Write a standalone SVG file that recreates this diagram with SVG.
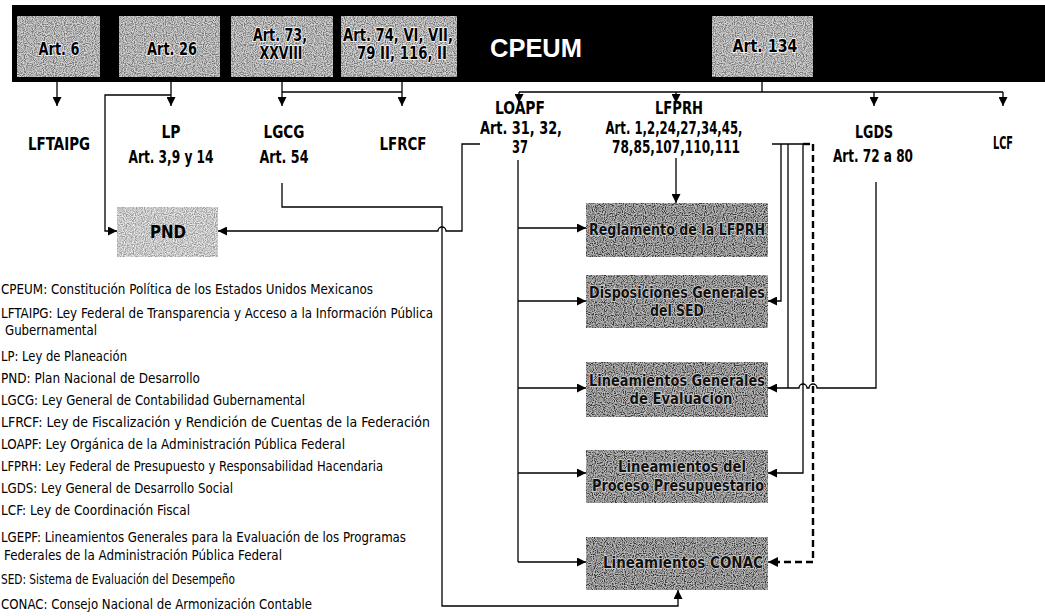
<svg xmlns="http://www.w3.org/2000/svg" width="1045" height="616" viewBox="0 0 1045 616">
<style>
.bar{fill:#000}
.artbox{fill:#a2a2a2}
.pnd{fill:#d2d2d2}
.dbox{fill:#4e4e4e}
text{font-family:"DejaVu Sans Condensed","Liberation Sans",sans-serif}
.art{font-weight:bold;font-size:17px;fill:#000;stroke:#fff;stroke-width:1.6;paint-order:stroke;text-anchor:middle}
.title{font-family:"Liberation Sans",sans-serif;font-weight:bold;font-size:25px;fill:#fff;text-anchor:middle}
.lbl{font-weight:bold;font-size:17px;fill:#000;text-anchor:middle}
.bt{font-weight:bold;font-size:16px;fill:#111;stroke:#d8d8d8;stroke-width:1.4;paint-order:stroke;text-anchor:middle}
.lg{font-size:14px;fill:#000}
.ln{fill:none;stroke:#000;stroke-width:1.3}
.dash{fill:none;stroke:#000;stroke-width:2.4;stroke-dasharray:7 4}
</style>
<defs>
<marker id="ah" viewBox="0 0 10 10" refX="10" refY="5" markerWidth="9" markerHeight="9" markerUnits="userSpaceOnUse" orient="auto">
<path d="M0,0 L10,5 L0,10 z" fill="#000"/>
</marker>
<marker id="ahd" viewBox="0 0 10 10" refX="10" refY="5" markerWidth="10" markerHeight="10" markerUnits="userSpaceOnUse" orient="auto">
<path d="M0,0 L10,5 L0,10 z" fill="#000"/>
</marker>
<filter id="grain" x="0" y="0" width="100%" height="100%">
<feTurbulence type="fractalNoise" baseFrequency="0.9" numOctaves="1" seed="4" result="n"/>
<feColorMatrix in="n" type="matrix" values="3 0 0 0 -1  3 0 0 0 -1  3 0 0 0 -1  0 0 0 0 0.5" result="g"/>
<feComposite in="g" in2="SourceGraphic" operator="in" result="gc"/>
<feMerge><feMergeNode in="SourceGraphic"/><feMergeNode in="gc"/></feMerge>
</filter>
</defs>

<g id="cpeum">
<rect class="bar" x="12" y="5" width="1033" height="77"/>
<text class="title" x="536" y="57" textLength="92" lengthAdjust="spacingAndGlyphs">CPEUM</text>
</g>
<g id="art6">
<rect class="artbox" x="17" y="16" width="83" height="61" filter="url(#grain)"/>
<text class="art" x="59" y="55" textLength="41" lengthAdjust="spacingAndGlyphs">Art. 6</text>
</g>
<g id="art26">
<rect class="artbox" x="119" y="16" width="101" height="61" filter="url(#grain)"/>
<text class="art" x="172" y="55" textLength="50" lengthAdjust="spacingAndGlyphs">Art. 26</text>
</g>
<g id="art73">
<rect class="artbox" x="231" y="16" width="102" height="61" filter="url(#grain)"/>
<text class="art" x="280" y="41" textLength="54" lengthAdjust="spacingAndGlyphs">Art. 73,</text>
<text class="art" x="281" y="59" textLength="43" lengthAdjust="spacingAndGlyphs">XXVIII</text>
</g>
<g id="art74">
<rect class="artbox" x="341" y="16" width="116" height="61" filter="url(#grain)"/>
<text class="art" x="398" y="41" textLength="110" lengthAdjust="spacingAndGlyphs">Art. 74, VI, VII,</text>
<text class="art" x="402" y="59" textLength="90" lengthAdjust="spacingAndGlyphs">79 II, 116, II</text>
</g>
<g id="art134">
<rect class="artbox" x="712" y="16" width="101" height="61" filter="url(#grain)"/>
<text class="art" x="765" y="52" textLength="65" lengthAdjust="spacingAndGlyphs">Art. 134</text>
</g>

<g id="lftaipg"><text class="lbl" x="59" y="150" textLength="62" lengthAdjust="spacingAndGlyphs">LFTAIPG</text></g>
<g id="lp"><text class="lbl" x="171" y="138" textLength="19" lengthAdjust="spacingAndGlyphs">LP</text><text class="lbl" x="171" y="163" textLength="85" lengthAdjust="spacingAndGlyphs">Art. 3,9 y 14</text></g>
<g id="lgcg"><text class="lbl" x="284" y="138" textLength="41" lengthAdjust="spacingAndGlyphs">LGCG</text><text class="lbl" x="284" y="163" textLength="49" lengthAdjust="spacingAndGlyphs">Art. 54</text></g>
<g id="lfrcf"><text class="lbl" x="403" y="150" textLength="47" lengthAdjust="spacingAndGlyphs">LFRCF</text></g>
<g id="loapf"><text class="lbl" x="520" y="114" textLength="50" lengthAdjust="spacingAndGlyphs">LOAPF</text><text class="lbl" x="521" y="134" textLength="82" lengthAdjust="spacingAndGlyphs">Art. 31, 32,</text><text class="lbl" x="520" y="153" textLength="16" lengthAdjust="spacingAndGlyphs">37</text></g>
<g id="lfprh"><text class="lbl" x="679" y="114" textLength="48" lengthAdjust="spacingAndGlyphs">LFPRH</text><text class="lbl" x="674" y="134" textLength="137" lengthAdjust="spacingAndGlyphs">Art. 1,2,24,27,34,45,</text><text class="lbl" x="676" y="153" textLength="128" lengthAdjust="spacingAndGlyphs">78,85,107,110,111</text></g>
<g id="lgds"><text class="lbl" x="874" y="138" textLength="38" lengthAdjust="spacingAndGlyphs">LGDS</text><text class="lbl" x="873" y="162" textLength="80" lengthAdjust="spacingAndGlyphs">Art. 72 a 80</text></g>
<g id="lcf"><text class="lbl" x="1003" y="149" textLength="20" lengthAdjust="spacingAndGlyphs">LCF</text></g>

<g id="pnd">
<rect class="pnd" x="117" y="207" width="101" height="50" filter="url(#grain)"/>
<text class="lbl" x="168" y="238" textLength="36" lengthAdjust="spacingAndGlyphs">PND</text>
</g>
<g id="reglamento">
<rect class="dbox" x="586" y="203" width="182" height="54" filter="url(#grain)"/>
<text class="bt" x="677" y="235" textLength="176" lengthAdjust="spacingAndGlyphs">Reglamento de la LFPRH</text>
</g>
<g id="disposiciones">
<rect class="dbox" x="586" y="275" width="182" height="53" filter="url(#grain)"/>
<text class="bt" x="677" y="298" textLength="176" lengthAdjust="spacingAndGlyphs">Disposiciones Generales</text>
<text class="bt" x="677" y="316" textLength="54" lengthAdjust="spacingAndGlyphs">del SED</text>
</g>
<g id="lineamientos-evaluacion">
<rect class="dbox" x="586" y="362" width="182" height="55" filter="url(#grain)"/>
<text class="bt" x="677" y="386" textLength="176" lengthAdjust="spacingAndGlyphs">Lineamientos Generales</text>
<text class="bt" x="681" y="404" textLength="103" lengthAdjust="spacingAndGlyphs">de Evaluación</text>
</g>
<g id="lineamientos-proceso">
<rect class="dbox" x="586" y="450" width="182" height="53" filter="url(#grain)"/>
<text class="bt" x="682" y="472" textLength="128" lengthAdjust="spacingAndGlyphs">Lineamientos del</text>
<text class="bt" x="678" y="491" textLength="172" lengthAdjust="spacingAndGlyphs">Proceso Presupuestario</text>
</g>
<g id="lineamientos-conac">
<rect class="dbox" x="586" y="537" width="182" height="53" filter="url(#grain)"/>
<text class="bt" x="683" y="568" textLength="160" lengthAdjust="spacingAndGlyphs">Lineamientos CONAC</text>
</g>

<g id="connectors">
<path class="ln" d="M57,82 V106" marker-end="url(#ah)"/>
<path class="ln" d="M171,82 V106" marker-end="url(#ah)"/>
<path class="ln" d="M171,95 H105 V231 H117" marker-end="url(#ah)"/>
<path class="ln" d="M282,82 V106" marker-end="url(#ah)"/>
<path class="ln" d="M402,82 V106" marker-end="url(#ah)"/>
<path class="ln" d="M282,92 H402"/>
<path class="ln" d="M762,82 V92 M519,92 H1003"/>
<path class="ln" d="M519,92 V103" marker-end="url(#ah)"/>
<path class="ln" d="M676,92 V103" marker-end="url(#ah)"/>
<path class="ln" d="M874,92 V106" marker-end="url(#ah)"/>
<path class="ln" d="M1003,92 V106" marker-end="url(#ah)"/>
<path class="ln" d="M480,144 H462 V231 H446 A4,4 0 0 0 438,231 H218" marker-end="url(#ah)"/>
<path class="ln" d="M282,183 V207 H442 V606 H678 V590" marker-end="url(#ah)"/>
<path class="ln" d="M676,158 V203" marker-end="url(#ah)"/>
<path class="ln" d="M518,160 V562"/>
<path class="ln" d="M518,228 H586" marker-end="url(#ah)"/>
<path class="ln" d="M518,301 H586" marker-end="url(#ah)"/>
<path class="ln" d="M518,388 H586" marker-end="url(#ah)"/>
<path class="ln" d="M518,473 H586" marker-end="url(#ah)"/>
<path class="ln" d="M518,562 H586" marker-end="url(#ah)"/>
<path class="ln" d="M772,144 H806"/>
<path class="dash" d="M803,144 H813"/>
<path class="ln" d="M781,144 V301 H768" marker-end="url(#ah)"/>
<path class="ln" d="M788,144 V388"/>
<path class="ln" d="M803,144 V473 H768" marker-end="url(#ah)"/>
<path class="dash" d="M813,144 V562 H770"/>
<path class="ln" d="M780,562 H768" marker-end="url(#ahd)"/>
<path class="ln" d="M876,182 V388 H817 A4,4 0 0 0 809,388 H807 A4,4 0 0 0 799,388 H768" marker-end="url(#ah)"/>
</g>

<g id="legend">
<text class="lg" x="1" y="294" textLength="372" lengthAdjust="spacingAndGlyphs">CPEUM: Constitución Política de los Estados Unidos Mexicanos</text>
<text class="lg" x="1" y="318" textLength="432" lengthAdjust="spacingAndGlyphs">LFTAIPG: Ley Federal de Transparencia y Acceso a la Información Pública</text>
<text class="lg" x="5" y="335" textLength="92" lengthAdjust="spacingAndGlyphs">Gubernamental</text>
<text class="lg" x="1" y="361" textLength="126" lengthAdjust="spacingAndGlyphs">LP: Ley de Planeación</text>
<text class="lg" x="1" y="383" textLength="199" lengthAdjust="spacingAndGlyphs">PND: Plan Nacional de Desarrollo</text>
<text class="lg" x="1" y="405" textLength="304" lengthAdjust="spacingAndGlyphs">LGCG: Ley General de Contabilidad Gubernamental</text>
<text class="lg" x="1" y="427" textLength="429" lengthAdjust="spacingAndGlyphs">LFRCF: Ley de Fiscalización y Rendición de Cuentas de la Federación</text>
<text class="lg" x="1" y="449" textLength="344" lengthAdjust="spacingAndGlyphs">LOAPF: Ley Orgánica de la Administración Pública Federal</text>
<text class="lg" x="1" y="471" textLength="382" lengthAdjust="spacingAndGlyphs">LFPRH: Ley Federal de Presupuesto y Responsabilidad Hacendaria</text>
<text class="lg" x="1" y="493" textLength="232" lengthAdjust="spacingAndGlyphs">LGDS: Ley General de Desarrollo Social</text>
<text class="lg" x="1" y="515" textLength="189" lengthAdjust="spacingAndGlyphs">LCF: Ley de Coordinación Fiscal</text>
<text class="lg" x="1" y="542" textLength="405" lengthAdjust="spacingAndGlyphs">LGEPF: Lineamientos Generales para la Evaluación de los Programas</text>
<text class="lg" x="4" y="560" textLength="278" lengthAdjust="spacingAndGlyphs">Federales de la Administración Pública Federal</text>
<text class="lg" x="1" y="584" textLength="234" lengthAdjust="spacingAndGlyphs">SED: Sistema de Evaluación del Desempeño</text>
<text class="lg" x="1" y="609" textLength="311" lengthAdjust="spacingAndGlyphs">CONAC: Consejo Nacional de Armonización Contable</text>
</g>
</svg>
